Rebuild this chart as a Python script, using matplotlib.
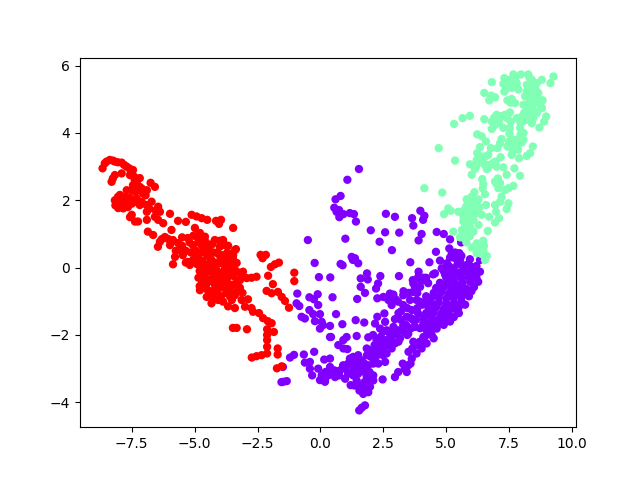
import matplotlib
matplotlib.use("Agg")
import matplotlib.pyplot as plt
import numpy as np

# values, (x, y)
red_points = [
    (-8.66,2.95),(-8.57,3.10),(-8.37,3.2),(-8.17,3.15),(-7.9,3.12),(-7.7,3.0),(-7.45,2.9),(-7.57,2.75),
    (-7.38,2.6),(-7.18,2.66),(-8.3,2.55),(-8.17,2.75),(-7.9,2.8),(-7.45,2.45),(-7.18,2.4),(-6.9,2.3),
    (-7.05,2.2),(-6.75,2.52),(-6.58,2.4),(-7.7,2.3),(-8.17,2.0),(-7.97,2.16),(-8.04,1.77),(-7.85,1.92),
    (-7.57,2.07),(-7.38,1.96),(-7.18,1.86),(-7.65,1.8),(-7.84,1.76),(-6.71,1.96),(-6.91,1.86),(-6.45,1.81),
    (-6.9,1.66),(-6.38,1.66),(-6.58,1.51),(-6.45,1.42),(-6.25,1.32),(-5.98,1.6),(-6.9,1.42),(-7.5,1.57),
    (-7.57,1.5),(-7.37,1.37),(-7.25,1.37),(-5.66,1.39),(-5.35,1.36),(-5.12,1.57),(-4.92,1.52),(-4.72,1.47),
    (-4.5,1.42),(-4.15,1.39),(-4.03,1.3),(-3.95,1.42),(-3.47,1.18),(-6.86,1.07),(-6.65,0.97),(-6.38,0.77),
    (-6.46,0.62),(-6.18,0.91),(-5.92,1.12),(-5.86,0.82),(-5.98,0.67),(-5.66,0.73),(-5.58,0.52),(-5.78,0.32),
    (-5.86,0.1),(-5.47,0.37),(-5.27,0.17),(-5.19,0.08),(-5.27,0.88),(-4.99,1.18),(-4.79,1.03),(-4.59,0.92),
    (-5.07,0.67),(-4.72,0.67),(-4.47,0.67),(-4.2,0.82),(-3.87,0.82),(-3.67,0.65),(-4.0,0.62),(-3.36,0.55),
    (-3.47,0.37),(-3.47,0.17),(-3.87,0.37),(-5.0,0.3),(-4.9,0.1),(-4.8,-0.1),(-4.75,0.45),(-4.7,0.2),
    (-4.6,0.0),(-4.6,-0.25),(-4.5,0.35),(-4.5,0.1),(-4.45,-0.1),(-4.4,-0.35),(-4.35,0.25),(-4.3,0.0),
    (-4.25,-0.2),(-4.2,-0.5),(-4.15,0.15),(-4.1,-0.1),(-4.05,-0.35),(-4.0,-0.6),(-3.95,0.25),(-3.9,-0.2),
    (-3.85,-0.45),(-3.8,-0.05),(-3.7,-0.3),(-3.6,-0.5),(-3.55,0.05),(-3.45,-0.25),(-4.79,-0.67),(-4.52,-0.87),
    (-4.33,-1.06),(-4.07,-0.96),(-3.87,-1.01),(-3.67,-1.15),(-3.4,-1.2),(-3.52,-0.96),(-3.28,-0.67),(-3.4,-0.82),
    (-3.13,-0.96),(-2.88,-0.94),(-3.0,-1.16),(-2.74,-1.2),(-2.68,-1.31),(-2.44,-1.35),(-2.28,-1.5),(-2.09,-1.59),
    (-1.94,-1.65),(-3.48,-1.79),(-3.33,-1.79),(-2.92,-1.83),(-2.12,-1.83),(-1.85,-1.91),(-2.12,-2.0),(-2.12,-2.15),
    (-2.12,-2.35),(-2.12,-2.55),(-2.34,-2.6),(-2.54,-2.63),(-2.73,-2.67),(-1.7,-2.4),(-1.7,-2.58),(-1.73,-2.99),
    (-1.54,-2.93),(-2.38,0.38),(-2.3,0.28),(-2.17,0.38),(-1.97,0.02),(-1.81,0.1),(-1.65,0.15),(-2.08,-0.24),
    (-1.04,-0.15),(-1.04,-0.4),(-1.89,-0.49),(-2.14,-0.69),(-1.94,-0.76),(-1.69,-0.72),(-1.54,-0.87),(-1.41,-0.99),
    (-1.25,-1.19),(-3.2,-0.37),(-2.93,-0.31),(-2.54,-0.27),(-2.74,-0.3),(-3.08,-0.12),(-3.33,0.14),(-3.4,0.52),
    (-3.48,0.28),(-3.8,0.67),(-4.6,-0.5),(-4.35,-0.7),(-3.75,-0.75),(-4.1,-0.8),
    (-4.95,0.5),(-4.85,0.3),(-4.65,0.5),(-4.55,0.55),(-4.85,-0.3),(-4.7,-0.45),(-4.8,-0.55),(-4.5,-0.65),
    (-4.3,-0.85),(-4.15,-0.9),(-3.95,-0.85),(-3.75,-0.6),(-3.55,-0.7),(-3.6,-0.85),(-3.45,-0.5),(-3.3,-0.4),
    (-3.2,-0.6),(-3.1,-0.75),(-3.65,0.0),(-3.7,0.2),(-4.05,0.4),(-4.25,0.45),(-4.4,0.5),(-3.6,0.35),
    (-4.1,0.1),(-3.85,0.1),(-4.2,-0.2),(-4.35,0.1),(-4.55,-0.1),(-4.75,0.05),(-4.3,-0.35),(-4.5,-0.45),
    (-4.15,-0.6),(-3.95,-0.4),(-3.75,-0.15),(-4.05,-0.2),(-3.6,-0.2),(-3.5,-0.05),(-3.35,-0.1),(-3.15,-0.2),
    (-8.5,3.15),(-8.25,3.18),(-8.05,3.13),(-7.8,3.05),(-7.6,2.95),(-7.5,2.8),(-7.4,2.7),(-7.3,2.55),
    (-7.25,2.35),(-7.35,2.25),(-7.5,2.3),(-7.1,2.35),(-6.95,2.15),(-8.25,2.65),(-8.1,2.0),(-8.05,2.1),
    (-7.9,2.05),(-7.75,2.1),(-7.65,1.95),(-7.5,1.9),(-7.3,2.05),(-7.95,1.85),(-8.15,1.85),(-7.8,1.8),
    (-7.1,1.95),(-6.8,1.75),(-6.55,1.7),(-5.5,0.9),(-5.2,0.75),(-5.05,0.95),(-4.9,0.9),(-4.7,0.85),
    (-4.85,0.75),(-4.55,0.75),(-4.3,0.7),(-5.15,0.45),(-5.35,0.5),(-5.5,0.65),(-5.75,0.5),(-6.05,0.85),
    (-6.3,0.85),(-4.0,0.8),(-4.1,0.45),(-3.7,0.45),(-5.35,0.15),(-5.1,0.2),
]

purple_points = [
    (1.53,2.93),(1.07,2.61),(0.8,2.13),(0.6,2.03),(0.55,1.78),(0.74,1.71),(0.64,1.66),(0.91,1.59),
    (0.75,1.5),(1.17,1.62),(1.33,1.59),(1.41,1.37),(2.0,1.11),(2.57,1.05),(3.13,1.04),(2.35,0.77),
    (2.84,0.52),(2.6,1.6),(2.96,1.51),(3.64,1.47),(3.69,1.25),(3.97,1.69),(4.13,1.54),(4.08,1.42),
    (4.02,1.0),(3.9,0.81),(-0.5,0.82),(0.99,0.86),(-0.23,0.14),(0.8,0.11),(0.88,0.07),(1.24,0.32),
    (1.37,0.28),(1.29,0.23),(1.5,0.13),(3.57,0.16),(4.33,0.16),(-0.06,-0.28),(0.39,-0.29),(1.6,-0.32),
    (1.85,-0.17),(1.88,-0.35),(2.38,-0.25),(3.12,-0.25),(3.9,-0.12),(3.89,-0.27),(3.67,-0.37),(4.1,-0.3),
    (-0.92,-0.77),(-0.11,-0.79),(-0.44,-0.88),(-0.26,-0.94),(-0.09,-1.11),(-0.95,-1.06),(-0.84,-1.14),(-0.44,-1.26),
    (-0.29,-1.38),(-0.02,-1.38),(-0.75,-1.46),(-0.62,-1.51),(-0.22,-1.59),(0.05,-1.61),(0.1,-1.71),(-0.02,-1.81),
    (0.38,-1.73),(0.38,-2.06),(-1.21,-2.67),(-1.05,-2.59),(-0.66,-2.58),(-0.25,-2.5),(0.15,-2.73),(0.38,-2.7),
    (-0.62,-2.82),(-0.42,-2.8),(-0.42,-3.0),(-0.09,-3.0),(-0.33,-3.2),(-0.02,-3.34),(0.18,-3.34),(0.31,-3.2),
    (0.38,-3.0),(-1.49,-2.95),(-1.48,-3.39),(-1.34,-3.37),(-1.55,-3.4),(0.18,-3.39),(0.38,-2.95),(0.58,-3.25),
    (0.78,-3.05),(0.98,-3.0),(0.98,-3.3),(1.17,-2.7),(1.24,-3.1),(1.2,-3.49),(1.37,-2.8),(1.44,-3.05),
    (1.44,-3.35),(1.64,-2.75),(1.64,-3.0),(1.64,-3.49),(1.77,-3.64),(1.9,-2.9),(1.84,-3.25),(1.97,-3.54),
    (2.1,-3.2),(2.47,-3.32),(2.96,-3.25),(3.09,-3.1),(1.54,-4.24),(1.64,-4.16),(1.77,-4.09),(0.42,-2.06),
    (0.87,-1.68),(0.62,-1.38),(1.4,-1.56),(1.74,-1.63),(1.44,-2.03),(1.04,-2.06),(0.91,-2.15),(0.71,-2.3),
    (0.91,-2.4),(1.07,-2.42),(0.48,-0.88),(1.46,-0.93),(1.77,-0.75),(1.6,-0.57),(2.26,-0.91),(2.29,-0.47),
    (2.21,-0.62),(1.9,-2.07),(2.09,-2.0),(2.23,-2.15),(2.43,-2.25),(2.63,-2.15),(1.84,-2.4),(2.04,-2.45),
    (2.3,-2.5),(2.48,-2.6),(2.3,-2.85),(2.57,-2.8),(2.26,-1.46),(2.54,-1.36),(2.57,-1.61),(2.96,-1.53),
    (2.17,-1.66),(2.37,-1.81),(2.63,-1.86),(2.9,-1.76),(2.9,-2.0),(3.09,-1.86),(3.29,-1.71),(3.16,-2.1),
    (2.96,-2.25),(2.83,-2.4),(2.63,-2.55),(4.22,-2.25),(4.02,-2.4),(3.82,-2.55),(3.63,-2.7),(3.49,-2.9),
    (3.43,-3.1),(3.27,-2.85),(4.62,-1.81),(4.42,-2.0),(4.09,-2.06),(3.69,-2.2),(3.49,-1.96),(3.76,-1.76),
    (3.96,-1.8),(4.22,-1.86),(2.76,-0.77),(2.5,-0.87),(2.7,-0.96),(2.83,-1.11),(3.09,-1.01),(3.29,-0.82),
    (3.29,-1.11),(3.56,-0.96),(3.63,-1.26),(3.43,-1.46),(3.69,-1.56),(3.96,-1.01),(3.69,-0.47),(3.96,-0.57),
    (3.88,-1.36),(4.09,-1.66),(4.35,-1.66),(4.59,0.47),(4.75,0.21),(4.62,1.06),(4.9,1.0),(5.15,0.84),
    (5.59,0.75),(5.12,0.57),(5.22,0.43),(5.52,0.43),(5.94,0.25),(6.34,0.23),(5.35,0.28),(5.55,0.23),
    (5.02,0.13),(5.81,0.08),(5.28,-0.02),(4.82,-0.02),(4.55,-0.17),(5.61,-0.12),(6.01,-0.07),(6.34,-0.12),
    (6.14,-0.27),(6.27,-0.42),(5.87,-0.27),(5.0,-0.3),(5.3,-0.32),(5.6,-0.31),(4.6,-0.6),(4.9,-0.58),
    (5.2,-0.62),(5.5,-0.6),(5.8,-0.63),(6.1,-0.58),(4.4,-0.9),(4.7,-0.88),(5.0,-0.92),(5.3,-0.9),
    (5.6,-0.87),(5.9,-0.85),(4.3,-1.2),(4.6,-1.18),(4.9,-1.22),(5.2,-1.2),(5.5,-1.17),(5.75,-1.1),
    (4.1,-1.5),(4.4,-1.48),(4.7,-1.52),(5.0,-1.5),(5.3,-1.47),(5.5,-1.35),(4.3,-1.8),(4.6,-1.78),
    (4.9,-1.7),(5.15,-1.6),(4.75,-1.66),
    (4.75,-0.45),(5.05,-0.45),(5.35,-0.47),(5.65,-0.45),(5.95,-0.42),(4.5,-0.75),(4.8,-0.73),(5.1,-0.77),
    (5.4,-0.75),(5.7,-0.72),(6.0,-0.7),(4.4,-1.05),(4.7,-1.03),(5.0,-1.07),(5.3,-1.05),(5.6,-1.0),
    (4.2,-1.35),(4.5,-1.33),(4.8,-1.37),(5.1,-1.35),(5.4,-1.25),(4.2,-1.65),(4.5,-1.63),(4.8,-1.6),
    (5.05,-1.5),(4.9,-0.1),(5.15,-0.15),(5.45,-0.15),(5.75,-0.1),(6.1,-0.15),(5.1,0.05),(5.45,0.1),
    (5.7,0.05),(5.95,0.05),(6.2,0.05),(5.35,0.45),(5.6,0.35),(5.15,0.3),(4.95,-0.2),(6.2,-0.3),
    (4.48,-0.2),(4.28,-0.46),(3.68,-0.72),(3.82,-0.96),(4.2,-0.85),(4.05,-1.1),(4.2,-1.0),(3.85,-1.2),
    (3.6,-1.5),(3.8,-1.55),(3.4,-1.7),(3.6,-1.8),(3.2,-1.55),(3.0,-1.95),(3.3,-1.9),(3.45,-2.0),
    (3.1,-2.2),(2.8,-2.15),(2.7,-2.3),(2.5,-2.4),(2.35,-2.35),(2.15,-2.3),(2.0,-2.65),(2.2,-2.65),
    (1.85,-2.6),(2.1,-2.85),(1.75,-2.85),(1.5,-2.6),(1.3,-2.65),(1.5,-2.9),(1.3,-2.95),(1.1,-2.85),
    (0.9,-2.9),(1.1,-3.15),(1.3,-3.2),(1.5,-3.15),(1.75,-3.1),(1.95,-3.1),(0.75,-3.2),(0.55,-3.05),
    (0.2,-3.1),(0.05,-3.2),(1.35,-3.5),(1.5,-3.5),(1.75,-3.4),(1.9,-3.4),(1.55,-3.65),(1.85,-3.65),
    (1.7,-3.75),(1.9,-3.7),(2.1,-3.35),(2.5,-1.9),(2.75,-1.95),(2.4,-2.05),(3.1,-1.35),(3.2,-1.3),
    (3.45,-1.2),(3.0,-0.95),(2.9,-0.8),(3.3,-0.7),(3.5,-0.75),(3.75,-0.55),(3.85,-0.75),(4.2,-0.3),
    (4.0,-0.4),(3.5,-2.5),(3.65,-2.4),(3.8,-2.3),(3.95,-2.2),(4.15,-2.05),(4.4,-1.85),(3.58,-2.85),
    (3.35,-3.0),(4.5,-2.1),
]

green_points = [
    (9.26,5.68),(9.14,5.48),(8.8,5.58),(8.26,5.74),(7.97,5.74),(7.67,5.74),(7.31,5.63),(7.27,5.46),
    (6.81,5.51),(7.53,5.58),(7.8,5.48),(7.6,5.34),(7.87,5.29),(7.31,5.23),(6.51,5.19),(6.78,5.11),
    (6.94,5.06),(6.71,4.97),(8.4,5.58),(8.6,5.48),(8.2,5.43),(8.46,5.34),(8.2,5.24),(8.66,5.19),
    (8.4,5.14),(8.13,5.09),(7.43,4.97),(7.6,5.01),(7.73,4.89),(8.83,4.97),(8.73,4.84),(8.4,4.98),
    (8.07,4.84),(8.26,4.79),(8.8,4.74),(8.6,4.59),(8.2,4.64),(8.46,4.44),(8.0,4.49),(7.8,4.44),
    (8.2,4.39),(8.4,4.29),(8.97,4.49),(8.89,4.34),(8.7,4.16),(7.53,4.61),(7.34,4.54),(7.0,4.54),
    (6.51,4.41),(5.94,4.51),(5.65,4.44),(5.31,4.27),(6.81,4.34),(7.07,4.39),(6.94,4.24),(6.81,4.12),
    (7.27,4.15),(7.56,4.34),(7.53,4.15),(7.51,3.98),(7.93,4.15),(8.07,4.0),(6.23,3.96),(6.41,3.9),
    (6.58,3.75),(7.2,3.82),(7.14,3.7),(7.03,3.55),(8.07,3.8),(7.87,3.8),(7.67,3.8),(7.73,3.65),
    (8.0,3.72),(7.43,3.6),(7.6,3.55),(7.6,3.35),(8.44,3.6),(8.33,3.4),(8.2,3.32),(7.89,3.25),
    (4.7,3.55),(5.35,3.18),(6.34,3.58),(6.23,3.4),(6.77,3.55),(6.67,3.35),(6.54,3.3),(7.16,3.28),
    (6.94,3.15),(6.74,3.05),(6.54,3.05),(5.94,3.07),(6.14,3.02),(6.21,3.2),(7.27,2.98),(7.71,2.95),
    (4.13,2.36),(4.84,2.23),(6.2,3.02),(6.14,2.93),(6.01,2.76),(6.61,3.05),(6.61,2.93),(6.94,3.1),
    (7.4,2.76),(7.93,2.73),(6.43,2.63),(6.47,2.48),(6.54,2.18),(6.94,2.56),(7.14,2.51),(7.07,2.36),
    (7.34,2.31),(7.67,2.43),(7.47,2.36),(6.12,2.24),(6.01,2.11),(5.81,2.03),(6.28,2.03),(5.94,1.96),
    (5.79,1.81),(6.04,1.81),(6.32,1.79),(6.58,1.86),(7.2,2.11),(7.14,1.96),(6.94,1.86),(7.47,1.91),
    (7.4,1.74),(6.98,1.66),(5.08,1.76),(5.18,1.69),(4.91,1.59),(5.48,1.66),(5.68,1.51),(5.94,1.51),
    (6.21,1.62),(6.41,1.57),(6.7,1.51),(7.1,1.47),(6.94,1.34),(6.08,1.42),(6.28,1.27),(5.68,1.37),
    (5.75,1.22),(5.94,1.22),(5.62,1.12),(5.81,1.07),(6.08,1.07),(5.28,1.07),(6.65,1.09),(5.68,0.97),
    (5.94,0.94),(5.55,0.9),(6.21,0.72),(6.47,0.8),(6.01,0.6),(6.41,0.67),(6.28,0.57),(6.47,0.52),
    (6.61,0.35),(6.54,0.23),(6.21,0.43),(6.41,0.4),
    (8.3,5.65),(8.5,5.45),(8.35,5.25),(8.55,5.3),(8.3,5.0),(8.5,4.9),(8.65,5.0),(8.4,4.75),
    (8.5,4.65),(8.3,4.55),(8.1,4.6),(7.5,5.35),(7.7,5.5),(7.75,5.65),(7.5,5.45),(7.55,4.9),
    (7.1,4.3),(7.0,4.4),(6.9,4.45),(7.4,4.45),(7.2,4.5),(7.95,4.3),(8.05,4.35),(7.95,3.95),
    (7.8,3.6),(7.85,3.5),(7.65,3.5),(7.5,3.75),(6.4,3.3),(6.3,3.15),(6.85,3.1),(7.0,3.0),
    (6.65,2.95),(6.45,3.15),(7.0,2.5),(7.05,2.65),(6.45,2.35),(5.85,1.4),(5.8,1.6),(5.85,1.9),
    (6.15,1.95),(6.15,1.7),(6.0,1.65),(5.75,0.85),(5.8,0.75),(6.35,0.5),(6.5,0.65),(5.7,1.7),
]

purple_x, purple_y = zip(*purple_points)
green_x, green_y = zip(*green_points)
red_x, red_y = zip(*red_points)

x = np.concatenate([purple_x, green_x, red_x])
y = np.concatenate([purple_y, green_y, red_y])
labels = np.array([0] * len(purple_x) + [1] * len(green_x) + [2] * len(red_x))

plt.figure(figsize=(6.4, 4.8), dpi=100)
plt.scatter(x, y, c=labels, cmap="rainbow", s=20, linewidths=1.5, edgecolors="face")
plt.savefig("out.png", dpi=100)
